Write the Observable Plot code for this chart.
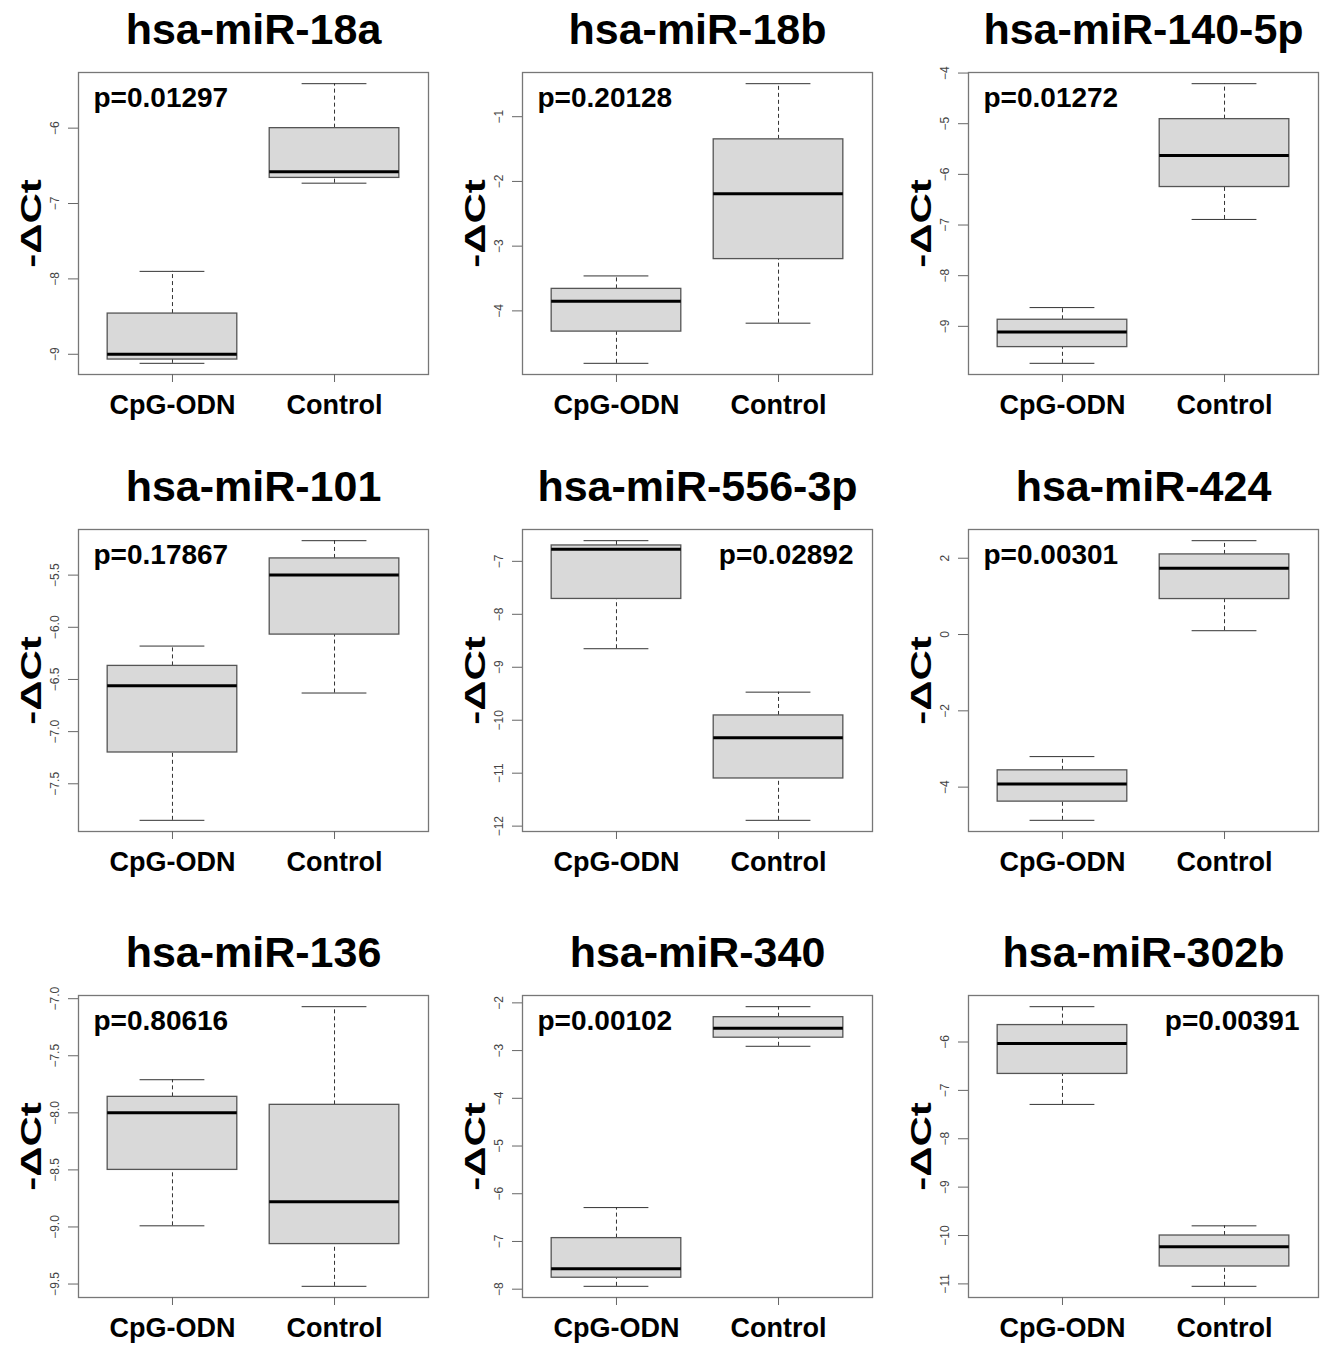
<!DOCTYPE html>
<html><head><meta charset="utf-8">
<script src="https://cdn.jsdelivr.net/npm/d3@7"></script>
<script src="https://cdn.jsdelivr.net/npm/@observablehq/plot@0.6"></script>
<style>
body{margin:0;background:#fff;overflow:hidden}
#chart{position:relative;width:1320px;height:1345px;overflow:hidden;background:#fff}
#chart svg{position:absolute;overflow:visible}
</style></head><body><div id="chart"></div>
<script>
const genes = ["hsa-miR-18a","hsa-miR-18b","hsa-miR-140-5p","hsa-miR-101","hsa-miR-556-3p","hsa-miR-424","hsa-miR-136","hsa-miR-340","hsa-miR-302b"];
const pValues = ["p=0.01297","p=0.20128","p=0.01272","p=0.17867","p=0.02892","p=0.00301","p=0.80616","p=0.00102","p=0.00391"];
const pSide = ["left","left","left","left","right","left","left","left","right"];
const groups = ["CpG-ODN","Control"];
const yLabel = "-ΔCt";
const cpgLower  = [-9.12,-4.81,-9.73,-7.85,-8.65,-4.87,-8.99,-7.94,-7.29];
const cpgQ1     = [-9.07,-4.32,-9.41,-7.20,-7.71,-4.38,-8.50,-7.76,-6.66];
const cpgMedian = [-9.00,-3.85,-9.11,-6.56,-6.77,-3.92,-8.00,-7.57,-6.03];
const cpgQ3     = [-8.46,-3.66,-8.87,-6.37,-6.70,-3.56,-7.86,-6.93,-5.65];
const cpgUpper  = [-7.90,-3.46,-8.63,-6.18,-6.61,-3.20,-7.71,-6.29,-5.27];
const ctlLower  = [-6.73,-4.19,-6.89,-6.63,-11.89,0.10,-9.52,-2.91,-11.05];
const ctlQ1     = [-6.66,-3.20,-6.25,-6.07,-11.10,0.93,-9.15,-2.73,-10.64];
const ctlMedian = [-6.58,-2.19,-5.63,-5.50,-10.33,1.74,-8.78,-2.53,-10.23];
const ctlQ3     = [-6.00,-1.35,-4.91,-5.34,-9.91,2.10,-7.93,-2.30,-10.00];
const ctlUpper  = [-5.41,-0.49,-4.21,-5.17,-9.47,2.46,-7.07,-2.08,-9.80];
const yTicks = [
  [-9,-8,-7,-6],
  [-4,-3,-2,-1],
  [-9,-8,-7,-6,-5,-4],
  [-7.5,-7.0,-6.5,-6.0,-5.5],
  [-12,-11,-10,-9,-8,-7],
  [-4,-2,0,2],
  [-9.5,-9.0,-8.5,-8.0,-7.5,-7.0],
  [-8,-7,-6,-5,-4,-3,-2],
  [-11,-10,-9,-8,-7,-6]
];

const frameLefts = [78,522,968], frameTops = [72,529,995];
const W = 350, H = 302, mL = 80, mT = 70, mR = 10, mB = 52;
const font = "'Liberation Sans', Arial, Helvetica, sans-serif";
const chart = document.getElementById("chart");

genes.forEach((g, i) => {
  const stats = [
    {pos:1, lo:cpgLower[i], q1:cpgQ1[i], med:cpgMedian[i], q3:cpgQ3[i], hi:cpgUpper[i]},
    {pos:2, lo:ctlLower[i], q1:ctlQ1[i], med:ctlMedian[i], q3:ctlQ3[i], hi:ctlUpper[i]}
  ];
  const lo = d3.min(stats, d => d.lo), hi = d3.max(stats, d => d.hi), r = hi - lo;
  const fmt = yTicks[i].some(t => !Number.isInteger(t)) ? d3.format(".1f") : d3.format("d");
  const right = pSide[i] === "right";
  const svg = Plot.plot({
    width: mL + W + mR, height: mT + H + mB,
    marginLeft: mL, marginTop: mT, marginRight: mR, marginBottom: mB,
    style: {fontFamily: font, background: "transparent", overflow: "visible"},
    x: {domain: [0.42, 2.58]},
    y: {domain: [lo - 0.04 * r, hi + 0.04 * r]},
    marks: [
      Plot.ruleX(stats, {x: "pos", y1: "q3", y2: "hi", stroke: "#333", strokeDasharray: "4,3"}),
      Plot.ruleX(stats, {x: "pos", y1: "lo", y2: "q1", stroke: "#333", strokeDasharray: "4,3"}),
      Plot.ruleY(stats, {y: "hi", x1: d => d.pos - 0.2, x2: d => d.pos + 0.2, stroke: "#333"}),
      Plot.ruleY(stats, {y: "lo", x1: d => d.pos - 0.2, x2: d => d.pos + 0.2, stroke: "#333"}),
      Plot.rect(stats, {x1: d => d.pos - 0.4, x2: d => d.pos + 0.4, y1: "q1", y2: "q3", fill: "#d9d9d9", stroke: "#555", strokeWidth: 1.3}),
      Plot.ruleY(stats, {y: "med", x1: d => d.pos - 0.4, x2: d => d.pos + 0.4, stroke: "#000", strokeWidth: 3}),
      Plot.frame({stroke: "#777", strokeWidth: 1.3}),
      Plot.axisY({ticks: yTicks[i], tickFormat: fmt, tickRotate: -90, textAnchor: "middle", lineAnchor: "bottom",
        tickSize: 10, tickPadding: 10, fontSize: 12, stroke: "#666", fill: "#444", label: null}),
      Plot.axisX({ticks: [1, 2], tickFormat: d => groups[d - 1], tickSize: 8, tickPadding: 12,
        fontSize: 27, fontWeight: "bold", stroke: "#666", fill: "#000", label: null}),
      Plot.text([g], {text: d => d, frameAnchor: "top", dy: -29, lineAnchor: "bottom", fontSize: 43, fontWeight: "bold", fill: "#000"}),
      Plot.text([pValues[i]], {text: d => d, frameAnchor: right ? "top-right" : "top-left", dx: right ? -19 : 15, dy: 34,
        lineAnchor: "bottom", textAnchor: right ? "end" : "start", fontSize: 28, fontWeight: "bold", fill: "#000"}),
      Plot.text([yLabel], {text: d => d, frameAnchor: "left", dx: -38, rotate: -90, lineAnchor: "bottom", textAnchor: "middle",
        fontSize: 30, fontWeight: "bold", fill: "#000"})
    ]
  });
  svg.style.left = (frameLefts[i % 3] - mL) + "px";
  svg.style.top = (frameTops[Math.floor(i / 3)] - mT) + "px";
  svg.querySelectorAll("text").forEach(t => {
    if (t.textContent === yLabel) {
      const tr = t.getAttribute("transform") || "";
      t.setAttribute("transform", (tr + " scale(1.4,1)").trim());
    }
  });
  chart.appendChild(svg);
});
</script></body></html>
